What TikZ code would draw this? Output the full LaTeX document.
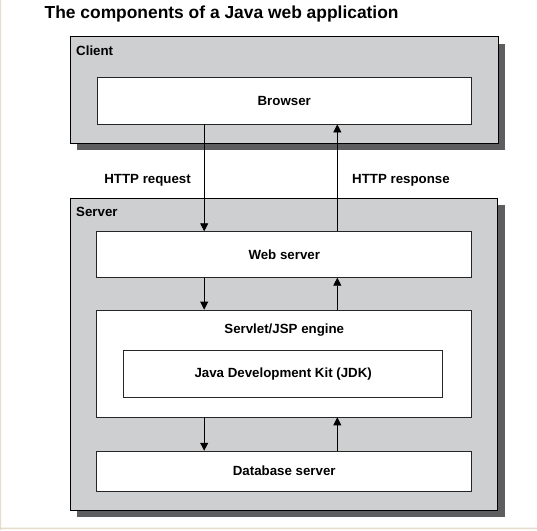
\documentclass[tikz,border=0pt]{standalone}
\usepackage{fontspec}
\setmainfont{Liberation Sans}
\usetikzlibrary{arrows.meta,shadows}
\definecolor{boxgray}{HTML}{CECFD1}
\definecolor{shadowgray}{HTML}{5E5E60}
\definecolor{paper}{HTML}{E6DCCB}
\begin{document}
\begin{tikzpicture}[x=1pt,y=-1pt,
  tier/.style={draw=black,line width=0.9pt,fill=boxgray,inner sep=0pt,
    drop shadow={shadow xshift=7pt,shadow yshift=-7pt,fill=shadowgray,opacity=1}},
  part/.style={draw=black!85,line width=0.8pt,fill=white,inner sep=0pt,
    font=\fontsize{13.3}{15}\selectfont\bfseries},
  caption/.style={inner sep=0pt,font=\fontsize{13.3}{15}\selectfont\bfseries},
  flow/.style={line width=0.8pt,-{Triangle[length=8pt,width=8pt]}}]
\fill[white] (0,0) rectangle (537,530);
\fill[paper] (0,0) rectangle (1.2,530) (0,527.6) rectangle (537,529.2);
\node[inner sep=0pt,anchor=west,font=\fontsize{17.4}{20}\selectfont\bfseries] (title) at (44.5,13.7) {The components of a Java web application};
\node[tier,minimum width=428.1pt,minimum height=106.6pt] (client) at (284.25,89.9) {};
\node[tier,minimum width=427.7pt,minimum height=311.8pt] (server) at (284.05,354.2) {};
\node[caption,anchor=west] (clientlbl) at (76,50.7) {Client};
\node[caption,anchor=west] (serverlbl) at (76,212.3) {Server};
\node[part,minimum width=374.7pt,minimum height=46.6pt] (browser) at (284.25,100.7) {Browser};
\node[part,minimum width=375pt,minimum height=45.6pt] (web) at (284.25,254.5) {Web server};
\node[part,minimum width=375pt,minimum height=106.9pt] (engine) at (284.25,363.5) {};
\node[caption] (enginelbl) at (284.25,330.3) {Servlet/JSP engine};
\node[part,minimum width=319.2pt,minimum height=47.6pt] (jdk) at (283.2,374) {Java Development Kit (JDK)};
\node[part,minimum width=375pt,minimum height=40.1pt] (db) at (284.25,471.2) {Database server};
\node[caption] (req) at (147.6,180.5) {HTTP request};
\node[caption] (resp) at (401,180.5) {HTTP response};
\coordinate (down) at (204.2,0);
\coordinate (up) at (337.3,0);
\draw[flow] (browser.south -| down) -- (web.north -| down);
\draw[flow] (web.north -| up) -- (browser.south -| up);
\draw[flow] (web.south -| down) -- (engine.north -| down);
\draw[flow] (engine.north -| up) -- (web.south -| up);
\draw[flow] (engine.south -| down) -- (db.north -| down);
\draw[flow] (db.north -| up) -- (engine.south -| up);
\end{tikzpicture}
\end{document}
